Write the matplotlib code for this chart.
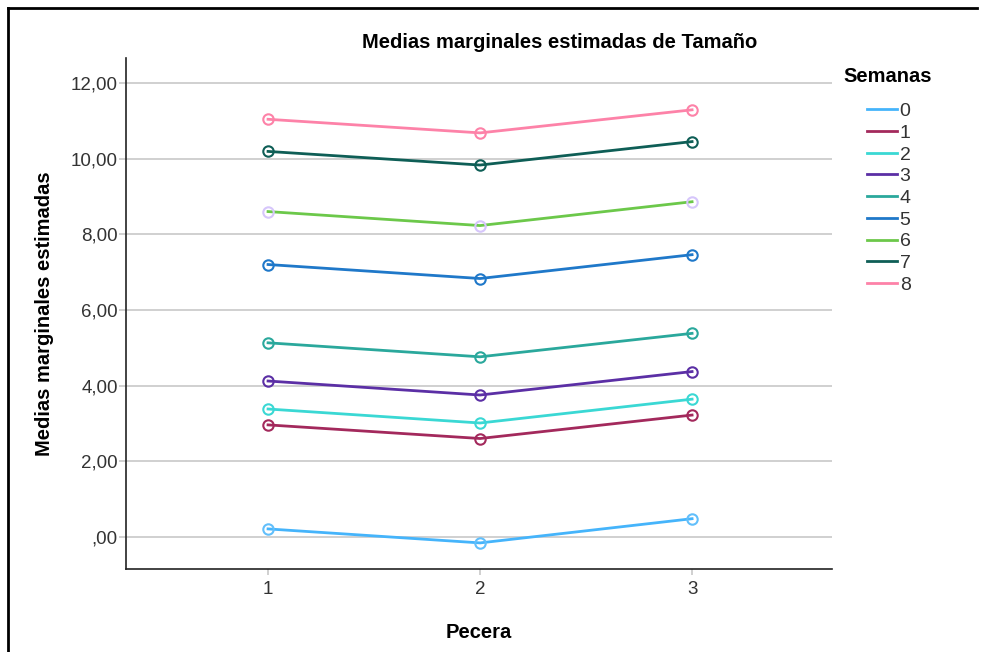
import matplotlib
matplotlib.use("Agg")
import matplotlib.pyplot as plt
from matplotlib.lines import Line2D

plt.rcParams['font.family'] = ['Liberation Sans', 'DejaVu Sans']

pecera = [1, 2, 3]
semanas = ['0', '1', '2', '3', '4', '5', '6', '7', '8']
s0 = [0.21, -0.16, 0.48]
s1 = [2.96, 2.60, 3.22]
s2 = [3.38, 3.01, 3.64]
s3 = [4.12, 3.75, 4.37]
s4 = [5.13, 4.76, 5.38]
s5 = [7.20, 6.83, 7.46]
s6 = [8.60, 8.23, 8.86]
s7 = [10.19, 9.83, 10.45]
s8 = [11.04, 10.68, 11.29]
series = [s0, s1, s2, s3, s4, s5, s6, s7, s8]
yticks = [0, 2, 4, 6, 8, 10, 12]
ytick_labels = [',00', '2,00', '4,00', '6,00', '8,00', '10,00', '12,00']

colors = ['#45b4fb', '#a3295c', '#3ad8d4', '#5b2fa5', '#2aa89c',
          '#1f78c9', '#6cc84a', '#0e5e56', '#fd82a8']
marker_edges = ['#62bffb', '#a3295c', '#3ad8d4', '#5b2fa5', '#2aa89c',
                '#1f78c9', '#d6c6fb', '#0e5e56', '#fd82a8']

fig = plt.figure(figsize=(9.82, 6.52), dpi=100)
ax = fig.add_axes([126/982, 1-569/652, (832-126)/982, (569-58)/652])

for vals, c, mc in zip(series, colors, marker_edges):
    ax.plot(pecera, vals, color=c, lw=2.0, marker='o', markersize=7.5,
            markerfacecolor='none', markeredgecolor=mc, markeredgewidth=1.5,
            zorder=3)

ax.set_xlim(0.33, 3.66)
ax.set_ylim(-0.85, 12.66)
ax.set_yticks(yticks)
ax.set_yticklabels(ytick_labels)
ax.set_xticks(pecera)
ax.set_xticklabels(['1', '2', '3'])
ax.grid(axis='y', color='#c8c8c8', lw=1.2, zorder=1)
for s in ['top', 'right']:
    ax.spines[s].set_visible(False)
for s in ['left', 'bottom']:
    ax.spines[s].set_color('#222222')
    ax.spines[s].set_linewidth(1.2)
ax.tick_params(axis='y', length=5, color='#c8c8c8', width=1.2, labelsize=13.5,
               labelcolor='#333333', pad=1)
ax.tick_params(axis='x', length=4, color='#c8c8c8', width=1.2, labelsize=13.5,
               labelcolor='#333333', pad=5)

ax.set_ylabel('Medias marginales estimadas', fontsize=14.5, fontweight='bold',
              labelpad=12)
ax.set_xlabel('Pecera', fontsize=14.5, fontweight='bold', labelpad=18)

fig.text(560/982, 1-42/652, 'Medias marginales estimadas de Tamaño',
         ha='center', va='center', fontsize=14.5, fontweight='bold')

fig.text(843/982, 1-77/652, 'Semanas', ha='left', va='center',
         fontsize=14.5, fontweight='bold')

handles = [Line2D([0], [0], color=c, lw=2.0) for c in colors]
leg = fig.legend(handles, semanas, loc='upper left',
                 bbox_to_anchor=(853/982, 1-89/652), frameon=False,
                 fontsize=14, handlelength=1.55,
                 handletextpad=0.15, labelspacing=0.21, borderpad=0.2)
for t in leg.get_texts():
    t.set_color('#333333')

# image frame
fig.add_artist(Line2D([8/982, 8/982], [0, 1-8/652], transform=fig.transFigure,
                      color='black', lw=2))
fig.add_artist(Line2D([8/982, 977/982], [1-8/652, 1-8/652],
                      transform=fig.transFigure, color='black', lw=2))

fig.savefig('out.png', dpi=100)
